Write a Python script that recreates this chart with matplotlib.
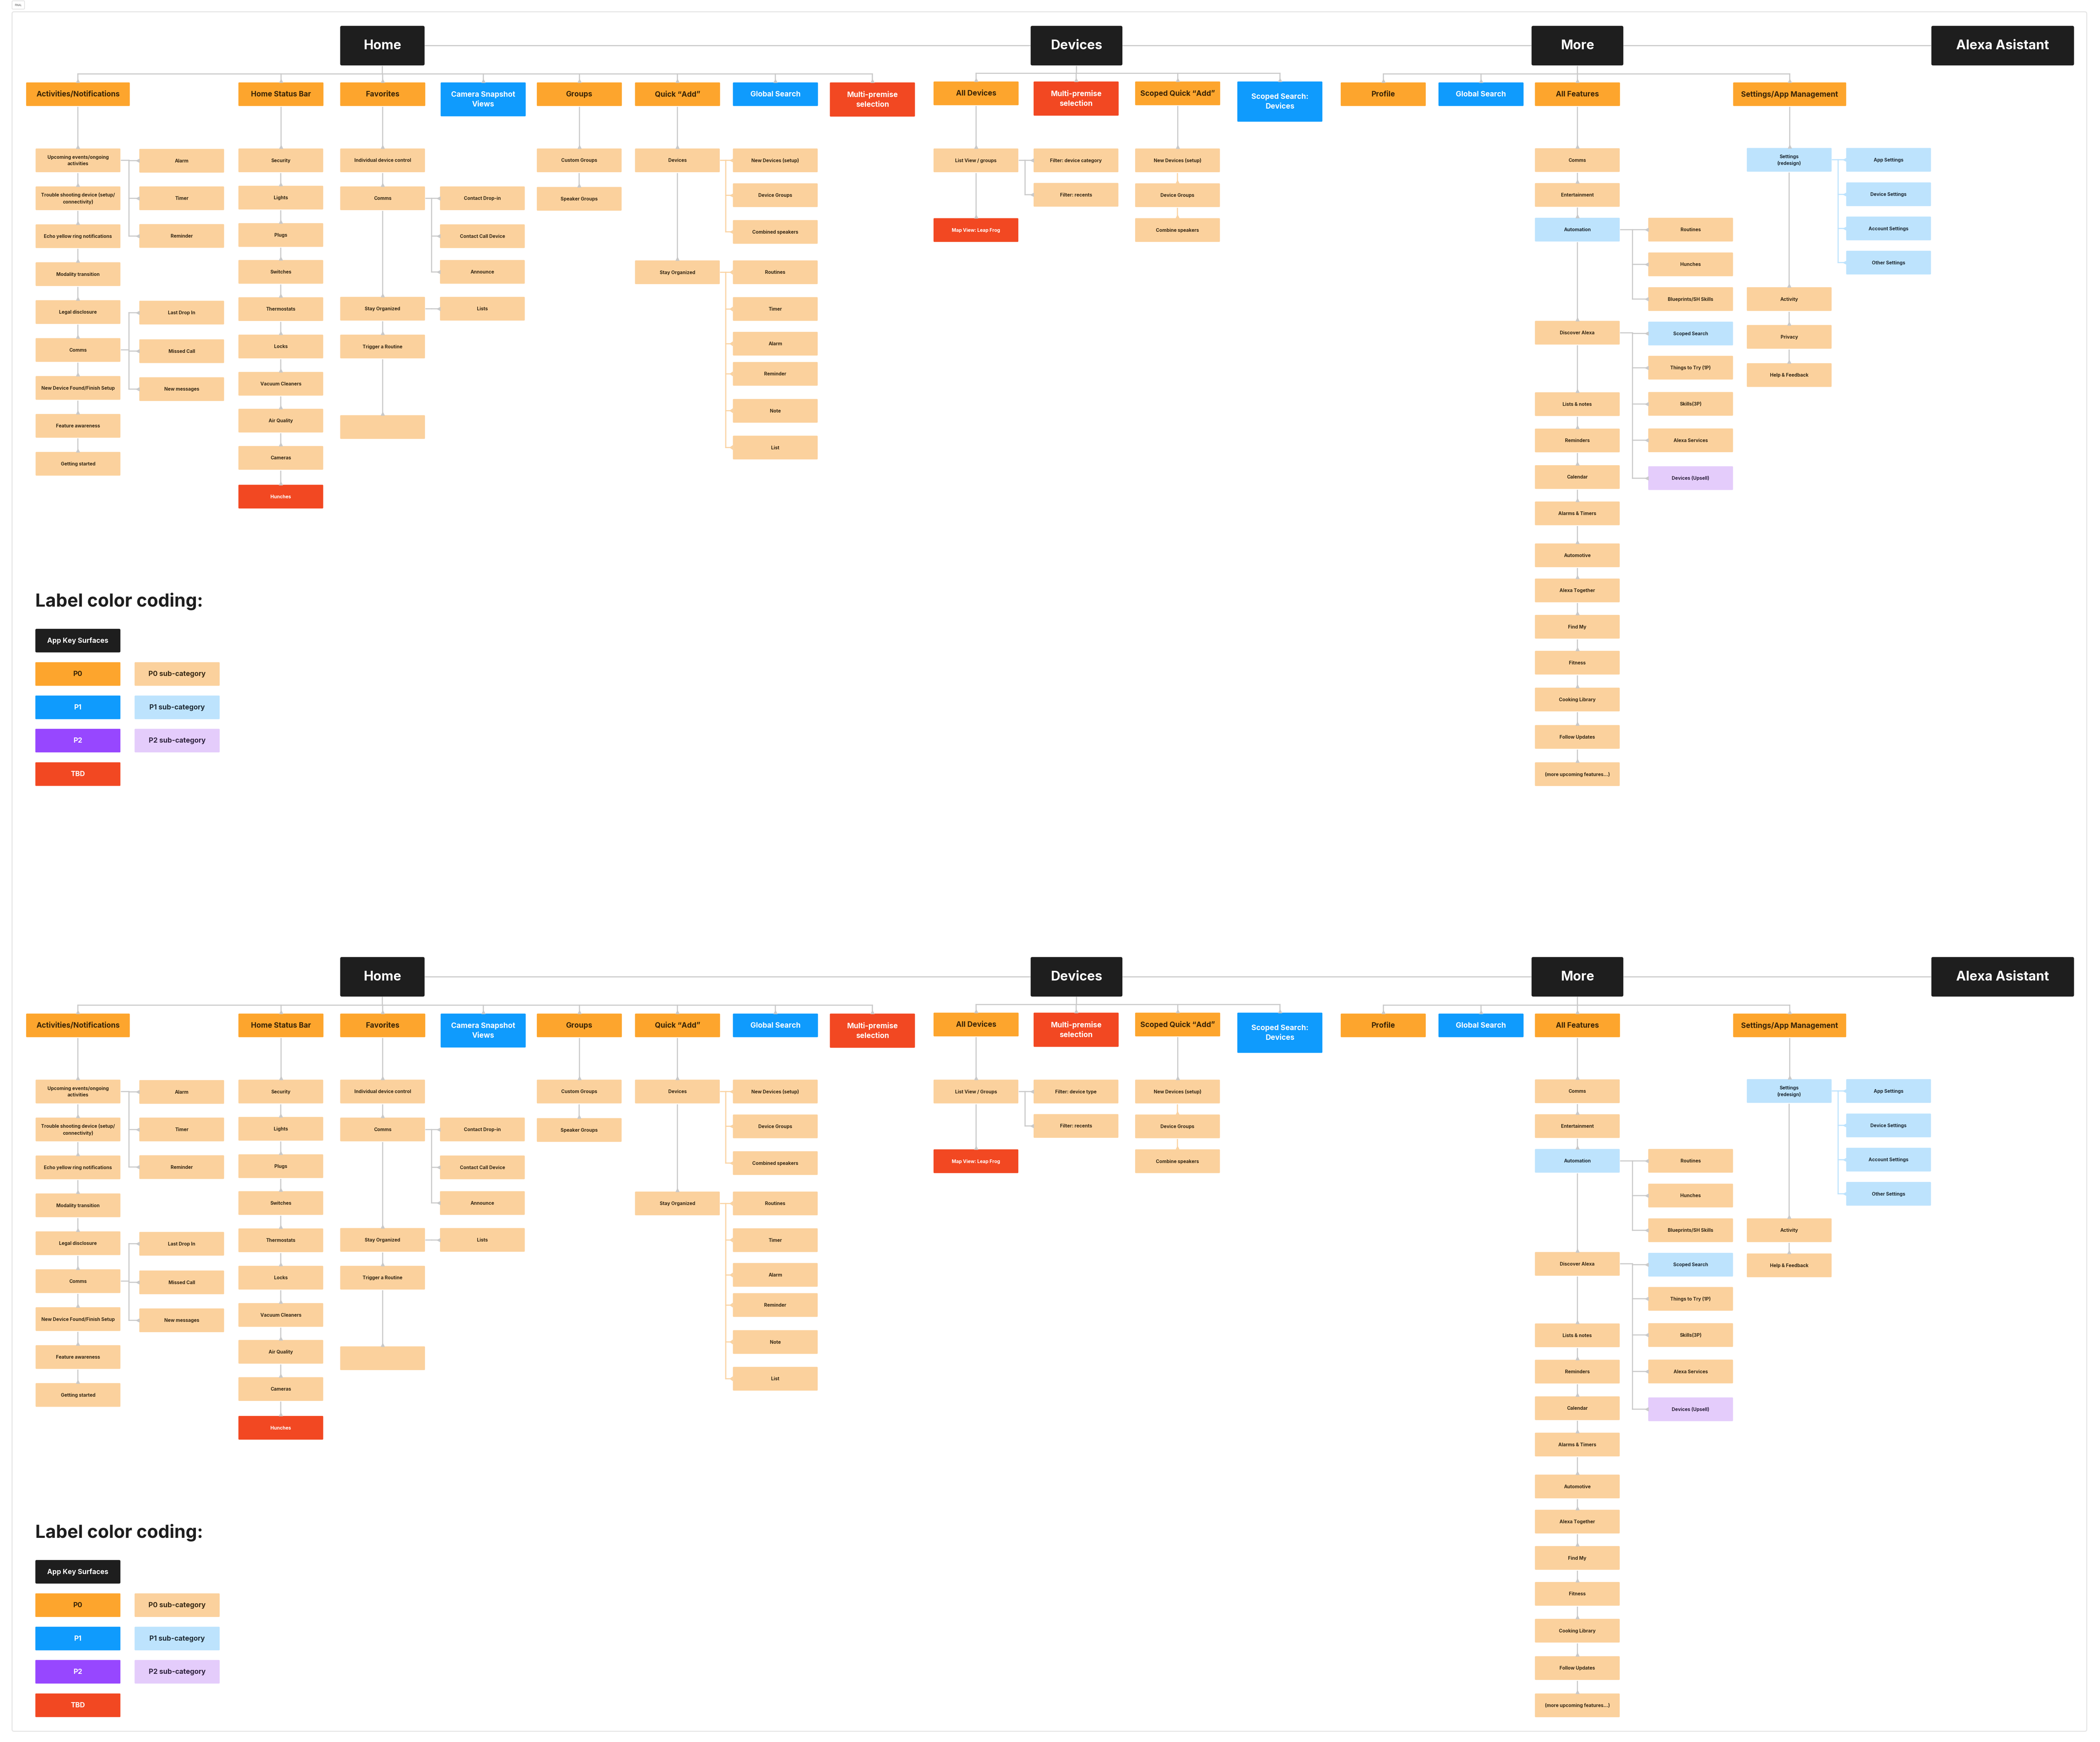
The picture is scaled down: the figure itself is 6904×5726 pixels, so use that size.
import matplotlib.pyplot as plt
from matplotlib.patches import FancyBboxPatch

plt.rcParams['font.family'] = ['Inter', 'DejaVu Sans']

# ---- labels (data) ----
key_surfaces = ['Home', 'Devices', 'More', 'Alexa Asistant']

home_headers = ['Activities/Notifications', 'Home Status Bar', 'Favorites', 'Camera Snapshot\nViews',
                'Groups', 'Quick \u201cAdd\u201d', 'Global Search', 'Multi-premise\nselection']
home_header_kinds = ['P0', 'P0', 'P0', 'P1', 'P0', 'P0', 'P1', 'TBD']

activity_items = ['Upcoming events/ongoing\nactivities', 'Trouble shooting device (setup/\nconnectivity)',
                  'Echo yellow ring notifications', 'Modality transition', 'Legal disclosure', 'Comms',
                  'New Device Found/Finish Setup', 'Feature awareness', 'Getting started']
activity_upcoming_sub = ['Alarm', 'Timer', 'Reminder']
activity_comms_sub = ['Last Drop In', 'Missed Call', 'New messages']

status_bar_items = ['Security', 'Lights', 'Plugs', 'Switches', 'Thermostats', 'Locks',
                    'Vacuum Cleaners', 'Air Quality', 'Cameras', 'Hunches']
status_bar_kinds = ['sub0'] * 9 + ['TBD']

favorites_items = ['Individual device control', 'Comms', 'Stay Organized', 'Trigger a Routine', '']
favorites_comms_sub = ['Contact Drop-in', 'Contact Call Device', 'Announce']
favorites_lists_sub = ['Lists']

groups_items = ['Custom Groups', 'Speaker Groups']
quick_add_items = ['Devices', 'Stay Organized']
quick_devices_sub = ['New Devices (setup)', 'Device Groups', 'Combined speakers']
quick_organized_sub = ['Routines', 'Timer', 'Alarm', 'Reminder', 'Note', 'List']

devices_headers = ['All Devices', 'Multi-premise\nselection', 'Scoped Quick \u201cAdd\u201d', 'Scoped Search:\nDevices']
devices_header_kinds = ['P0', 'TBD', 'P0', 'P1']
all_devices_items = {'top': ['List View / groups', 'Map View: Leap Frog'],
                     'bottom': ['List View / Groups', 'Map View: Leap Frog']}
all_devices_kinds = ['sub0', 'TBD']
filter_items = {'top': ['Filter: device category', 'Filter: recents'],
                'bottom': ['Filter: device type', 'Filter: recents']}
scoped_add_items = ['New Devices (setup)', 'Device Groups', 'Combine speakers']

more_headers = ['Profile', 'Global Search', 'All Features', 'Settings/App Management']
more_header_kinds = ['P0', 'P1', 'P0', 'P0']
features_items = ['Comms', 'Entertainment', 'Automation', 'Discover Alexa', 'Lists & notes', 'Reminders',
                  'Calendar', 'Alarms & Timers', 'Automotive', 'Alexa Together', 'Find My', 'Fitness',
                  'Cooking Library', 'Follow Updates', '(more upcoming features...)']
features_kinds = ['sub0', 'sub0', 'sub1'] + ['sub0'] * 12
automation_sub = ['Routines', 'Hunches', 'Blueprints/SH Skills']
discover_sub = ['Scoped Search', 'Things to Try (1P)', 'Skills(3P)', 'Alexa Services', 'Devices (Upsell)']
discover_kinds = ['sub1', 'sub0', 'sub0', 'sub0', 'sub2']
settings_items = {'top': ['Settings\n(redesign)', 'Activity', 'Privacy', 'Help & Feedback'],
                  'bottom': ['Settings\n(redesign)', 'Activity', 'Help & Feedback']}
settings_sub = ['App Settings', 'Device Settings', 'Account Settings', 'Other Settings']

legend_left = ['App Key Surfaces', 'P0', 'P1', 'P2', 'TBD']
legend_left_kinds = ['key', 'P0', 'P1', 'P2', 'TBD']
legend_right = ['P0 sub-category', 'P1 sub-category', 'P2 sub-category']
legend_right_kinds = ['sub0', 'sub1', 'sub2']

# ---- styles ----
STYLE = {
    'key': ('#1E1E1E', 'white'),
    'P0': ('#FDA52D', '#3B2406'),
    'P1': ('#0F9BFD', 'white'),
    'P2': ('#9747FF', 'white'),
    'TBD': ('#F24822', 'white'),
    'sub0': ('#FBD19D', '#3A2A16'),
    'sub1': ('#BDE3FD', '#1F2B38'),
    'sub2': ('#E4CCFB', '#2E2340'),
}
GREY = '#C9C9C9'
ORANGE_LINE = '#FAD3A2'
BLUE_LINE = '#BDE3FD'

W, H = 1568, 1300
DPI = 97  # full 7118x5904 trips the PNG reader's pixel limit
fig = plt.figure(figsize=(71.18, 59.04), dpi=DPI, facecolor='white')
ax = fig.add_axes([0, 0, 1, 1])
ax.set_xlim(0, W)
ax.set_ylim(H, 0)
ax.axis('off')

SW, SH = 63.3, 17.7  # sub box size
SUB_FS, HEAD_FS = 11.5, 18


def box(x, y, w, h, label, kind, fs=SUB_FS, rs=0.6):
    face, tc = STYLE[kind]
    ax.add_patch(FancyBboxPatch((x, y), w, h, boxstyle=f'round,pad=0,rounding_size={rs}',
                                facecolor=face, edgecolor='none', zorder=2))
    if label:
        ax.text(x + w / 2, y + h / 2, label, ha='center', va='center', fontsize=fs,
                fontweight='bold', color=tc, zorder=4, linespacing=1.5)
    return (x, y, w, h)


def vlink(a, b, color=GREY):
    cx = a[0] + a[2] / 2
    ax.plot([cx, cx], [a[1] + a[3] + 0.6, b[1] - 0.3], color=color, lw=2.6, zorder=1,
            solid_capstyle='butt')
    ax.plot(cx, b[1] - 1.3, marker='^', ms=11, color=color, mec='none', zorder=3)


def branch(p, kids, color=GREY, marker='<'):
    px = p[0] + p[2]
    py = p[1] + p[3] / 2
    trunk = px + (kids[0][0] - px) * 0.45
    ys = [k[1] + k[3] / 2 for k in kids]
    ax.plot([px + 0.6, trunk], [py, py], color=color, lw=2.6, zorder=1)
    ax.plot([trunk, trunk], [min(ys + [py]), max(ys + [py])], color=color, lw=2.6, zorder=1)
    for k, ky in zip(kids, ys):
        ax.plot([trunk, k[0] - 0.5], [ky, ky], color=color, lw=2.6, zorder=1)
        if marker == '<':
            ax.plot(k[0] - 1.3, ky, marker='<', ms=11, color=color, mec='none', zorder=3)
        else:
            ax.plot(k[0] - 2.0, ky, marker=4, ms=13, color=color, mew=2.6, zorder=3)


def column(x, rows, labels, kinds, dy, chain=True, w=SW, color=GREY):
    boxes = [box(x, r + dy, w, SH, lab, k) for r, lab, k in zip(rows, labels, kinds)]
    if chain:
        for a, b in zip(boxes[:-1], boxes[1:]):
            vlink(a, b, color)
    return boxes


def hub(parent, heads, y_bus):
    cx = parent[0] + parent[2] / 2
    xs = [h[0] + h[2] / 2 for h in heads]
    ax.plot([cx, cx], [parent[1] + parent[3] + 0.6, y_bus], color=GREY, lw=2.6, zorder=1)
    ax.plot([min(xs), max(xs)], [y_bus, y_bus], color=GREY, lw=2.6, zorder=1)
    for h, hx in zip(heads, xs):
        ax.plot([hx, hx], [y_bus, h[1] - 0.3], color=GREY, lw=2.6, zorder=1)
        ax.plot(hx, h[1] - 1.3, marker='^', ms=11, color=GREY, mec='none', zorder=3)


def section(dy, variant):
    # key surfaces
    home = box(254, 19.5 + dy, 63, 29.5, key_surfaces[0], 'key', fs=32, rs=1.2)
    dev = box(769.5, 19.5 + dy, 68.5, 29.5, key_surfaces[1], 'key', fs=32, rs=1.2)
    more = box(1143.5, 19.5 + dy, 68.5, 29.5, key_surfaces[2], 'key', fs=32, rs=1.2)
    alexa = box(1442, 19.5 + dy, 106.5, 29.5, key_surfaces[3], 'key', fs=32, rs=1.2)
    for a, b in [(home, dev), (dev, more), (more, alexa)]:
        ax.plot([a[0] + a[2] + 0.5, b[0] - 0.5], [34.2 + dy] * 2, color=GREY, lw=2.6, zorder=1)

    # Home headers
    hx = [19.5, 178, 254, 329, 400.8, 474.1, 547.2, 619.6]
    hw = [77.4, 63.5, 63.5, 63.5, 63.5, 63.5, 63.5, 63.5]
    hh = [17.6, 17.6, 17.6, 25.3, 17.6, 17.6, 17.6, 25.5]
    heads = [box(x, 61.7 + dy, w, h, lab, k, fs=HEAD_FS) for x, w, h, lab, k in
             zip(hx, hw, hh, home_headers, home_header_kinds)]
    hub(home, heads, 55.4 + dy)

    # Activities/Notifications
    a_rows = [111 + 28.3 * i for i in range(9)]
    acts = column(26.6, a_rows, activity_items, ['sub0'] * 9, dy)
    vlink(heads[0], acts[0])
    up = column(104, [111.3, 139.3, 167.4], activity_upcoming_sub, ['sub0'] * 3, dy, chain=False)
    branch(acts[0], up)
    cm = column(104, [224.6, 253.4, 281.7], activity_comms_sub, ['sub0'] * 3, dy, chain=False)
    branch(acts[5], cm)

    # Home Status Bar
    s_rows = [111, 138.8, 166.7, 194.2, 222, 249.9, 277.7, 305.2, 333, 361.9]
    sb = column(178, s_rows, status_bar_items, status_bar_kinds, dy)
    vlink(heads[1], sb[0])

    # Favorites
    fav = column(254, [111, 139.3, 221.7, 249.9, 310], favorites_items, ['sub0'] * 5, dy)
    vlink(heads[2], fav[0])
    fc = column(328.5, [139.3, 167.6, 194.2], favorites_comms_sub, ['sub0'] * 3, dy, chain=False)
    branch(fav[1], fc)
    fl = column(328.5, [221.7], favorites_lists_sub, ['sub0'], dy, chain=False)
    branch(fav[2], fl)

    # Groups
    gr = column(400.8, [111, 139.7], groups_items, ['sub0'] * 2, dy)
    vlink(heads[4], gr[0])

    # Quick Add
    qa = column(474.1, [111, 194.5], quick_add_items, ['sub0'] * 2, dy)
    vlink(heads[5], qa[0])
    qd = column(547.2, [111, 137, 164.4], quick_devices_sub, ['sub0'] * 3, dy, chain=False)
    branch(qa[0], qd, ORANGE_LINE)
    qo = column(547.2, [194.5, 221.9, 247.8, 270.3, 297.9, 325.3], quick_organized_sub,
                ['sub0'] * 6, dy, chain=False)
    branch(qa[1], qo, ORANGE_LINE, marker='chev')

    # Devices headers
    dxs = [697, 771.7, 847.5, 923.8]
    dhs = [17.7, 25.5, 17.7, 30]
    dheads = [box(x, 61 + dy, 63.5, h, lab, k, fs=HEAD_FS) for x, h, lab, k in
              zip(dxs, dhs, devices_headers, devices_header_kinds)]
    hub(dev, dheads, 54.9 + dy)
    ad = column(697, [111, 163], all_devices_items[variant], all_devices_kinds, dy)
    vlink(dheads[0], ad[0])
    fl2 = column(771.7, [111, 136.7], filter_items[variant], ['sub0'] * 2, dy, chain=False)
    branch(ad[0], fl2)
    sq = column(847.5, [111, 137, 163], scoped_add_items, ['sub0'] * 3, dy, color=ORANGE_LINE)
    vlink(dheads[2], sq[0])

    # More headers
    mxs = [1001, 1074, 1146, 1294]
    mws = [63.5, 63.5, 63.5, 84.4]
    mheads = [box(x, 61.7 + dy, w, 17.6, lab, k, fs=HEAD_FS) for x, w, lab, k in
              zip(mxs, mws, more_headers, more_header_kinds)]
    hub(more, mheads, 55.4 + dy)
    f_rows = [110.8, 136.8, 162.7, 239.6, 292.9, 320, 347.3, 374.4, 405.7, 431.9,
              459, 485.8, 513.3, 541.2, 569]
    feats = column(1146, f_rows, features_items, features_kinds, dy)
    vlink(mheads[2], feats[0])
    au = column(1230.6, [162.7, 188.6, 214.5], automation_sub, ['sub0'] * 3, dy, chain=False)
    branch(feats[2], au)
    di = column(1230.6, [240.2, 265.7, 292.7, 319.9, 348.1], discover_sub, discover_kinds, dy, chain=False)
    branch(feats[3], di)
    s_items = settings_items[variant]
    s_rows2 = [110.6, 214.5, 242.7, 271.2] if variant == 'top' else [110.6, 214.5, 240.7]
    st = column(1304.2, s_rows2, s_items, ['sub1'] + ['sub0'] * (len(s_items) - 1), dy)
    vlink(mheads[3], st[0])
    ss = column(1378.4, [110.6, 136.3, 161.8, 187.3], settings_sub, ['sub1'] * 4, dy, chain=False)
    branch(st[0], ss, BLUE_LINE)

    # legend
    ax.text(26.4, 448.8 + dy, 'Label color coding:', ha='left', va='center', fontsize=44,
            fontweight='bold', color='#1E1E1E')
    for lab, k, y in zip(legend_left, legend_left_kinds, [469.4, 494.3, 519.2, 544, 569]):
        box(26.4, y + dy, 63.5, 17.6, lab, k, fs=17, rs=1.0 if k == 'key' else 0.5)
    for lab, k, y in zip(legend_right, legend_right_kinds, [494.3, 519.2, 544]):
        box(100.5, y + dy, 63.5, 17.6, lab, k, fs=17)


# frame
ax.add_patch(FancyBboxPatch((9, 9), 1549, 1283, boxstyle='round,pad=0,rounding_size=1.5',
                            facecolor='none', edgecolor='#E6E6E6', lw=2.5, zorder=0))
ax.add_patch(FancyBboxPatch((9, 0.8), 9.3, 6.2, boxstyle='round,pad=0,rounding_size=0.6',
                            facecolor='white', edgecolor='#DDDDDD', lw=1.5, zorder=0))
ax.text(13.6, 3.9, 'FINAL', ha='center', va='center', fontsize=6, color='#444444')

section(0, 'top')
section(694.8, 'bottom')

fig.savefig('out.png', dpi=DPI, facecolor='white')
